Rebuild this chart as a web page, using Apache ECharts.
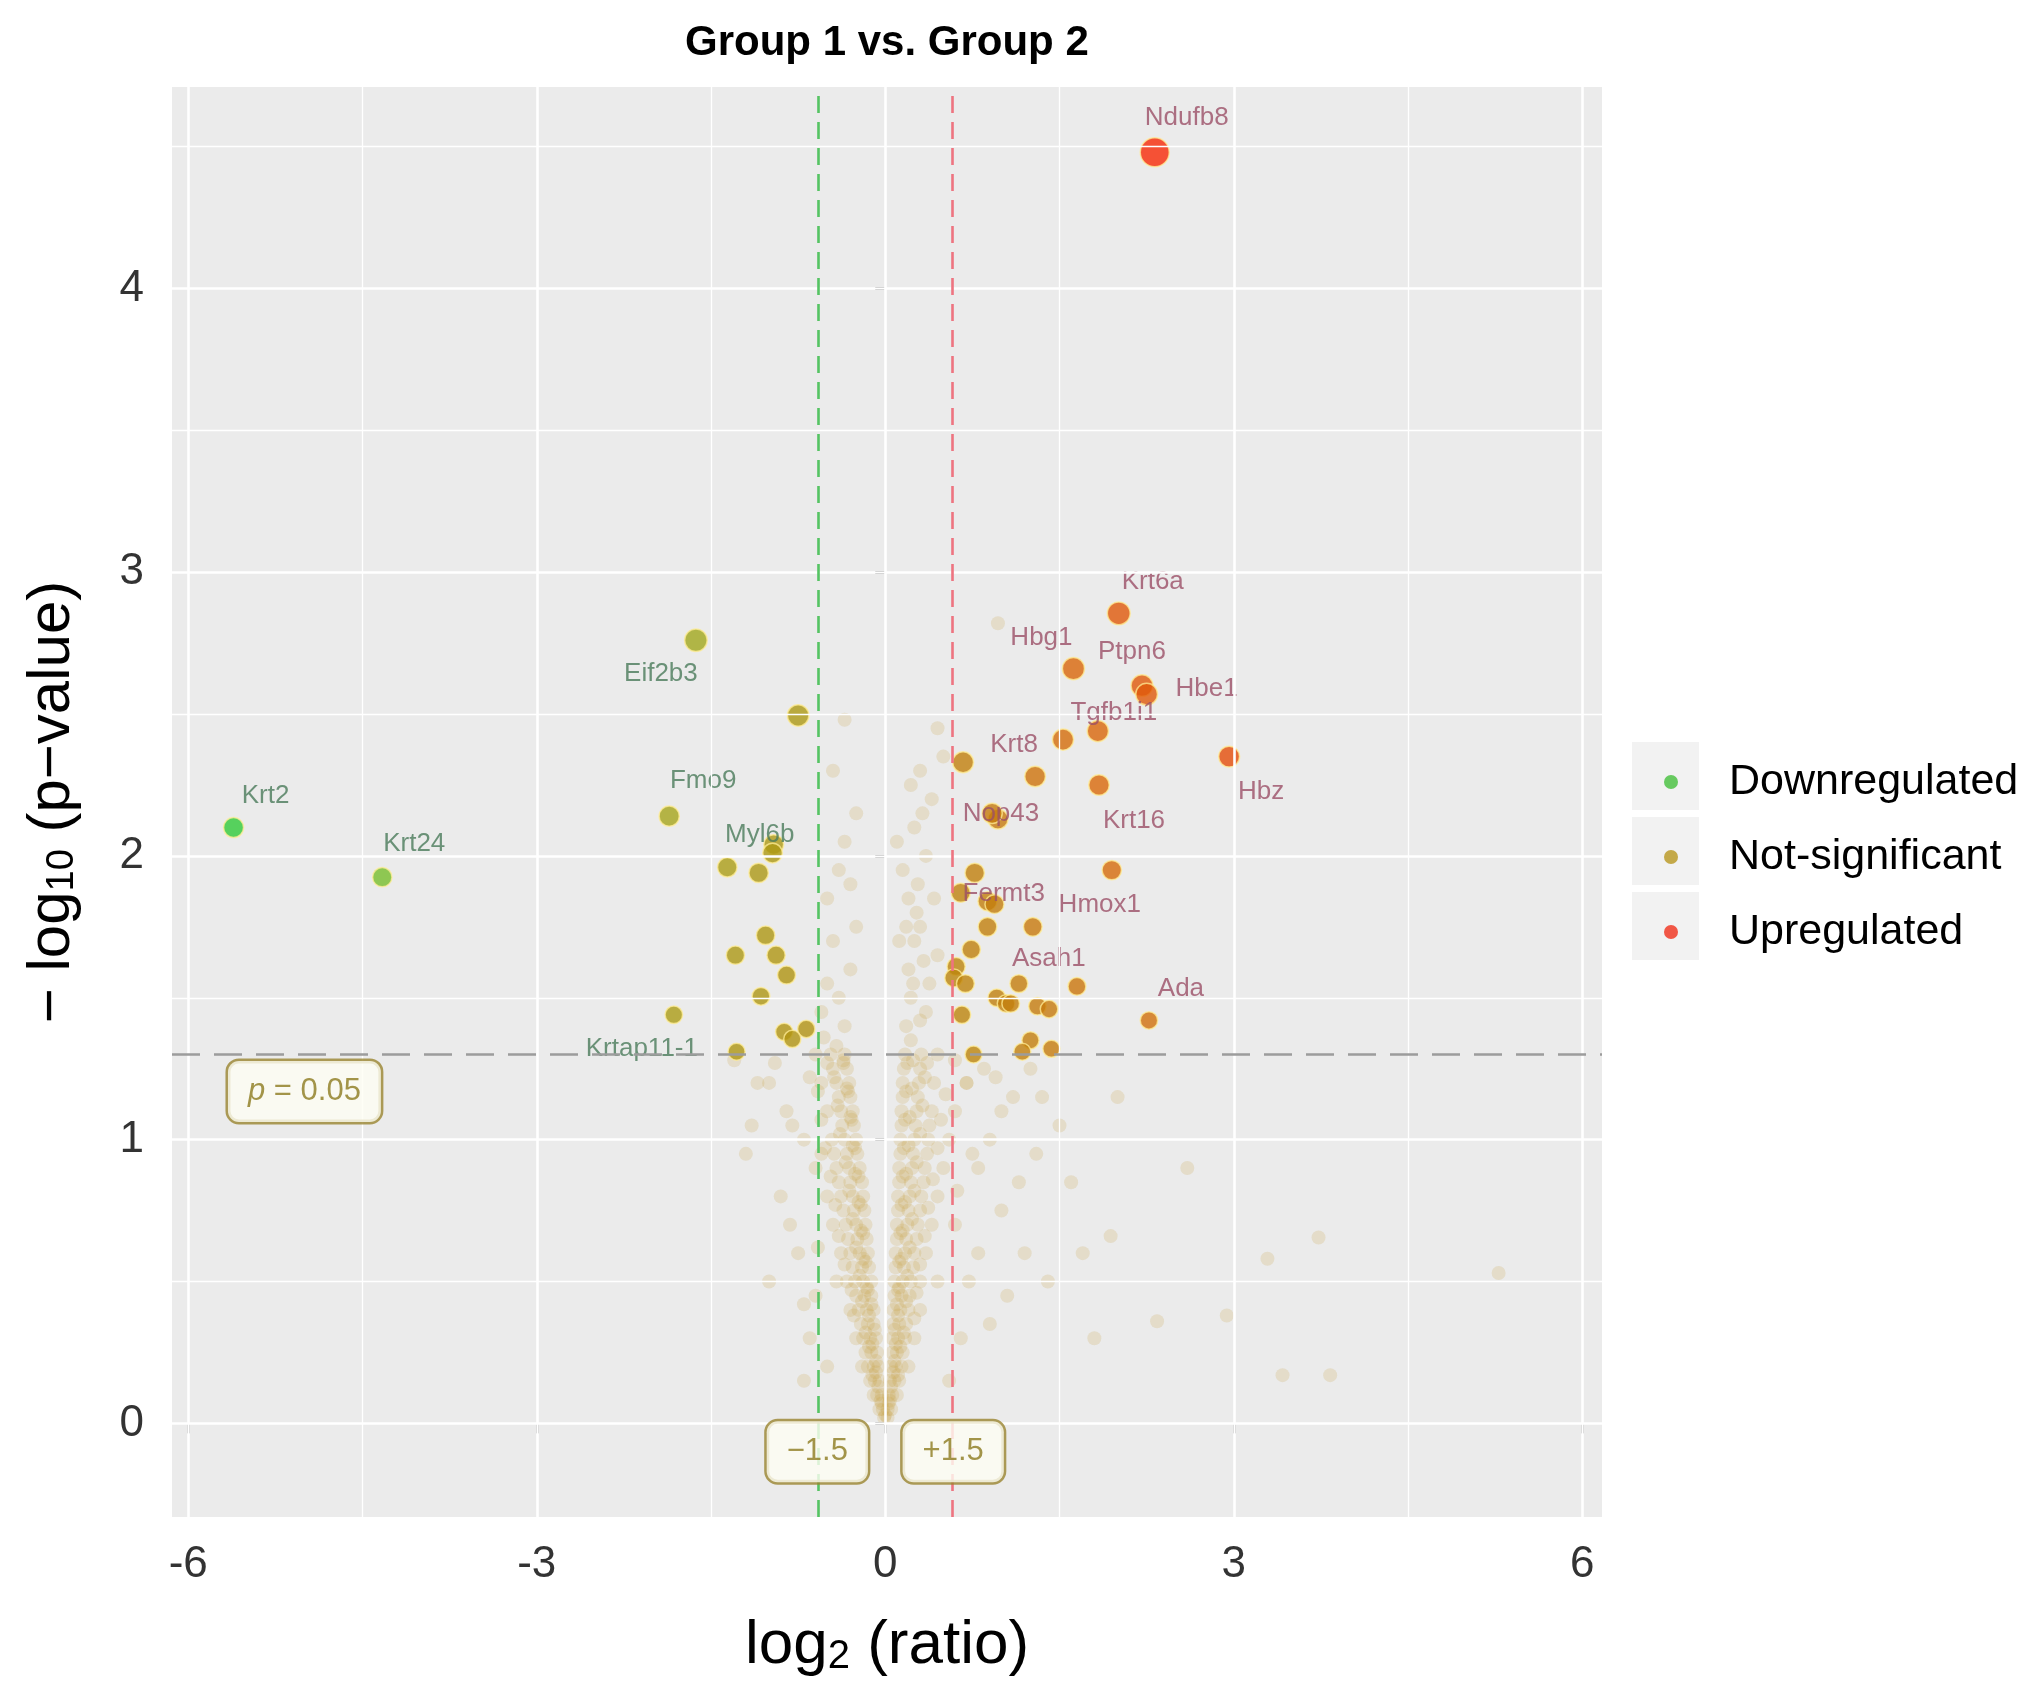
<!DOCTYPE html>
<html>
<head>
<meta charset="utf-8">
<script src="https://cdn.jsdelivr.net/npm/echarts@6/dist/echarts.min.js"></script>
<style>html,body{margin:0;padding:0;background:#fff}#c{width:2031px;height:1690px}</style>
</head>
<body>
<div id="c"></div>
<script>
const chartTitle = 'Group 1 vs. Group 2';
const xTicks = [-6, -3, 0, 3, 6];
const yTicks = [0, 1, 2, 3, 4];
const xMinor = [-4.5, -1.5, 1.5, 4.5];
const yMinor = [0.5, 1.5, 2.5, 3.5, 4.5];
const fcCut = 0.585;
const pCut = 1.301;
const legendNames = ['Downregulated', 'Not-significant', 'Upregulated'];
const legendColors = ['#43BF3B', '#B8961E', '#F0301A'];

// significant / coloured points
const sigNames = ['Ndufb8','Krt6a','Hbg1','Ptpn6','Hbe1','Tgfb1i1','Hbz','Krt8','Krt16','Nop43','Hmox1','Fermt3','Asah1','Ada',
  'Krt2','Krt24','Eif2b3','Fmo9','Myl6b','Krtap11-1',
  '','','','','','','','','','','','','','','','','','','','','','','',
  '','','','','','','','','','','','',''];
const sigX = [2.32,2.01,1.62,2.21,2.25,1.83,2.96,1.29,1.84,0.97,1.95,0.65,1.27,2.27,
  -5.61,-4.33,-1.63,-1.86,-0.96,-1.82,
  1.53,0.67,0.92,0.77,0.88,0.94,0.88,0.74,0.61,0.59,0.69,1.15,1.65,0.96,1.04,1.08,1.31,1.41,0.66,1.25,1.18,1.43,0.76,
  -0.75,-0.97,-1.36,-1.09,-1.03,-1.29,-0.94,-0.85,-1.07,-0.68,-0.87,-0.80,-1.28];
const sigY = [4.48,2.855,2.66,2.60,2.57,2.44,2.35,2.28,2.25,2.13,1.95,1.87,1.75,1.42,
  2.10,1.925,2.76,2.14,2.04,1.44,
  2.41,2.33,2.15,1.94,1.84,1.83,1.75,1.67,1.61,1.57,1.55,1.55,1.54,1.50,1.48,1.48,1.47,1.46,1.44,1.35,1.31,1.32,1.30,
  2.495,2.01,1.96,1.94,1.72,1.65,1.65,1.58,1.505,1.39,1.38,1.355,1.31];

// faint background points (not significant)
const cloudLeft = [[-0.02,0.05],[-0.05,0.05],[-0.03,0.1],[-0.07,0.1],[-0.1,0.1],[-0.05,0.15],[-0.09,0.15],[-0.13,0.15],
  [-0.06,0.2],[-0.1,0.2],[-0.15,0.2],[-0.2,0.2],[-0.07,0.25],[-0.12,0.25],[-0.17,0.25],[-0.08,0.3],[-0.13,0.3],[-0.19,0.3],[-0.25,0.3],
  [-0.1,0.35],[-0.15,0.35],[-0.21,0.35],[-0.1,0.4],[-0.16,0.4],[-0.23,0.4],[-0.3,0.4],[-0.12,0.45],[-0.18,0.45],[-0.25,0.45],
  [-0.12,0.5],[-0.19,0.5],[-0.26,0.5],[-0.33,0.5],[-0.42,0.5],[-0.14,0.55],[-0.2,0.55],[-0.28,0.55],[-0.15,0.6],[-0.22,0.6],[-0.3,0.6],[-0.38,0.6],
  [-0.16,0.65],[-0.24,0.65],[-0.32,0.65],[-0.17,0.7],[-0.25,0.7],[-0.34,0.7],[-0.45,0.7],[-0.18,0.75],[-0.27,0.75],[-0.36,0.75],
  [-0.19,0.8],[-0.28,0.8],[-0.38,0.8],[-0.5,0.8],[-0.2,0.85],[-0.3,0.85],[-0.4,0.85],[-0.22,0.9],[-0.31,0.9],[-0.42,0.9],[-0.6,0.9],
  [-0.24,0.95],[-0.33,0.95],[-0.44,0.95],[-0.25,1.0],[-0.35,1.0],[-0.46,1.0],[-0.7,1.0],[-0.27,1.05],[-0.37,1.05],
  [-0.28,1.1],[-0.38,1.1],[-0.5,1.1],[-0.85,1.1],[-0.3,1.15],[-0.4,1.15],[-0.31,1.2],[-0.42,1.2],[-0.55,1.2],[-1.0,1.2],
  [-0.33,1.25],[-0.45,1.25],[-0.35,1.3],[-0.47,1.3],[-0.6,1.3]];
const cloudRight = [[0.02,0.05],[0.05,0.05],[0.03,0.1],[0.06,0.1],[0.1,0.1],[0.04,0.15],[0.08,0.15],[0.12,0.15],
  [0.05,0.2],[0.09,0.2],[0.14,0.2],[0.2,0.2],[0.06,0.25],[0.1,0.25],[0.15,0.25],[0.06,0.3],[0.11,0.3],[0.17,0.3],[0.25,0.3],
  [0.07,0.35],[0.12,0.35],[0.18,0.35],[0.07,0.4],[0.13,0.4],[0.2,0.4],[0.3,0.4],[0.08,0.45],[0.14,0.45],[0.21,0.45],
  [0.08,0.5],[0.15,0.5],[0.22,0.5],[0.3,0.5],[0.45,0.5],[0.09,0.55],[0.16,0.55],[0.24,0.55],[0.09,0.6],[0.17,0.6],[0.25,0.6],[0.35,0.6],
  [0.1,0.65],[0.18,0.65],[0.27,0.65],[0.1,0.7],[0.19,0.7],[0.28,0.7],[0.4,0.7],[0.6,0.7],[0.11,0.75],[0.2,0.75],[0.3,0.75],
  [0.11,0.8],[0.21,0.8],[0.31,0.8],[0.45,0.8],[0.12,0.85],[0.22,0.85],[0.33,0.85],[0.12,0.9],[0.23,0.9],[0.34,0.9],[0.5,0.9],[0.8,0.9],
  [0.13,0.95],[0.24,0.95],[0.36,0.95],[0.13,1.0],[0.25,1.0],[0.37,1.0],[0.55,1.0],[0.14,1.05],[0.26,1.05],[0.38,1.05],
  [0.14,1.1],[0.27,1.1],[0.4,1.1],[0.6,1.1],[1.0,1.1],[0.15,1.15],[0.28,1.15],[0.15,1.2],[0.29,1.2],[0.42,1.2],[0.7,1.2],
  [0.16,1.25],[0.3,1.25],[0.17,1.3],[0.31,1.3],[0.45,1.3]];
const cloudCore = [[0.02,0.02],[-0.01,0.02],[0,0.03],[-0.04,0.08],[0.04,0.08],[-0.08,0.18],[0.07,0.18],[-0.11,0.28],[0.09,0.28],
  [-0.14,0.38],[0.11,0.38],[-0.16,0.48],[0.12,0.48],[-0.19,0.58],[0.14,0.58],[-0.21,0.68],[0.15,0.68],[-0.23,0.78],[0.17,0.78],
  [-0.26,0.88],[0.18,0.88],[-0.28,0.98],[0.2,0.98],[-0.3,1.08],[0.21,1.08],[-0.33,1.18],[0.23,1.18],[-0.36,1.28],[0.24,1.28]];
const cloudFillLeft = [[-0.03,0.07],[-0.06,0.13],[-0.08,0.22],[-0.11,0.17],[-0.14,0.27],[-0.09,0.33],[-0.17,0.32],[-0.12,0.42],
  [-0.2,0.43],[-0.27,0.38],[-0.15,0.47],[-0.22,0.52],[-0.29,0.47],[-0.17,0.57],[-0.25,0.62],[-0.35,0.56],[-0.19,0.67],[-0.28,0.72],
  [-0.4,0.66],[-0.21,0.77],[-0.31,0.82],[-0.43,0.77],[-0.23,0.87],[-0.34,0.92],[-0.47,0.87],[-0.26,0.97],[-0.39,1.02],[-0.52,0.97],
  [-0.29,1.07],[-0.41,1.12],[-0.55,1.07],[-0.32,1.17],[-0.44,1.22],[-0.58,1.17],[-0.36,1.27],[-0.5,1.27],[-0.65,1.22],[-0.42,1.33],[-0.53,1.36]];
const cloudFillRight = [[0.03,0.07],[0.05,0.13],[0.08,0.22],[0.11,0.17],[0.13,0.27],[0.08,0.33],[0.16,0.32],[0.1,0.42],[0.18,0.43],
  [0.25,0.37],[0.11,0.47],[0.19,0.52],[0.27,0.46],[0.12,0.57],[0.21,0.62],[0.3,0.56],[0.13,0.67],[0.23,0.72],[0.34,0.66],[0.14,0.77],
  [0.25,0.82],[0.37,0.76],[0.15,0.87],[0.27,0.92],[0.41,0.86],[0.16,0.97],[0.3,1.02],[0.45,0.97],[0.17,1.07],[0.32,1.12],
  [0.48,1.07],[0.18,1.17],[0.34,1.22],[0.52,1.16],[0.19,1.27],[0.36,1.27],[0.22,1.35],[0.3,1.42],[0.24,1.55],[0.33,1.63],
  [0.27,1.8],[0.18,1.75],[0.32,2.15],[0.22,2.25],[0.42,1.85]];
const cloudUpper = [[-0.35,1.4],[-0.4,1.5],[-0.3,1.6],[-0.45,1.7],[-0.5,1.85],[-0.3,1.9],[-0.35,2.05],[-0.25,2.15],[-0.45,2.3],
  [-0.35,2.48],[-0.55,1.45],[-0.5,1.55],[-0.25,1.75],[-0.4,1.95],
  [0.18,1.4],[0.22,1.5],[0.2,1.6],[0.25,1.7],[0.3,1.75],[0.2,1.85],[0.28,1.9],[0.15,1.95],[0.35,2.0],[0.25,2.1],[0.4,2.2],
  [0.3,2.3],[0.45,2.45],[0.1,2.05],[0.38,1.55],[0.45,1.65],[0.97,2.82],[0.5,2.35],[0.35,1.45],[0.12,1.7]];
const cloudSparse = [[-0.8,1.05],[-1.1,1.2],[-1.3,1.28],[-0.9,0.8],[-0.75,0.6],[-0.6,0.45],[-1.2,0.95],[-0.65,0.3],[-0.5,0.2],
  [-1.0,0.5],[-0.7,0.15],[0.7,1.2],[0.9,1.0],[1.1,1.15],[1.3,0.95],[1.5,1.05],[0.8,0.6],[1.0,0.75],[1.2,0.6],[1.6,0.85],
  [0.65,0.3],[0.9,0.35],[1.4,0.5],[1.94,0.66],[2.34,0.36],[2.94,0.38],[3.29,0.58],[3.73,0.655],[5.28,0.53],[3.42,0.17],
  [3.83,0.17],[2.6,0.9],[2.0,1.15],[0.75,0.95],[1.25,1.25],[0.55,0.15],[1.8,0.3],
  [-0.95,1.27],[-1.15,1.05],[-0.82,0.7],[-0.58,0.62],[-0.7,0.42],[-0.55,0.95],[0.62,0.82],[0.85,1.25],[1.15,0.85],
  [0.72,0.5],[1.05,0.45],[1.35,1.15],[1.7,0.6],[0.6,1.28],[0.95,1.22]];

const boxLabels = [[-fcCut, -0.10, '−1.5'], [fcCut, -0.10, '+1.5'], [-5.0, 1.17, 'p = 0.05']];

const labelOffset = {
  Ndufb8:[32,-34], Krt6a:[34,-31], Hbg1:[-32,-31], Ptpn6:[-10,-34], Hbe1:[60,-5], Tgfb1i1:[16,-18],
  Hbz:[32,35], Krt8:[-21,-32], Krt16:[35,36], Nop43:[3,-5], Hmox1:[-12,35], Fermt3:[43,1], Asah1:[16,32],
  Ada:[32,-32], Krt2:[32,-32], Krt24:[32,-33], Eif2b3:[-35,34], Fmo9:[34,-35], Myl6b:[-14,-10], 'Krtap11-1':[-32,34]
};

const sigData = sigNames.map((n, i) => ({
  name: n,
  value: [sigX[i], sigY[i], sigX[i] * sigY[i]],
  label: n ? { show: true, color: sigX[i] < 0 ? '#4A7A5A' : '#9B4F66' } : { show: false }
}));
const cloudData = [].concat(cloudLeft, cloudRight, cloudCore, cloudFillLeft, cloudFillRight, cloudUpper, cloudSparse);

const XMIN = -6.14, XMAX = 6.17, YMIN = -0.33, YMAX = 4.71;
const font = 'Liberation Sans, Arial, Helvetica, sans-serif';

const gridLines = [];
xTicks.forEach(v => gridLines.push({ xAxis: v, lineStyle: { width: 2.6 } }));
xMinor.forEach(v => gridLines.push({ xAxis: v, lineStyle: { width: 1.3 } }));
yTicks.forEach(v => gridLines.push({ yAxis: v, lineStyle: { width: 2.6 } }));
yMinor.forEach(v => gridLines.push({ yAxis: v, lineStyle: { width: 1.3 } }));

const chart = echarts.init(document.getElementById('c'), null, { renderer: 'canvas' });
chart.setOption({
  animation: false,
  textStyle: { fontFamily: font },
  title: {
    text: chartTitle, left: 680, top: 17,
    textStyle: { fontSize: 42, fontWeight: 'bold', color: '#000', fontFamily: font }
  },
  legend: {
    data: legendNames, orient: 'vertical', left: 1659, top: 752,
    itemWidth: 14, itemHeight: 14, itemGap: 25, icon: 'circle',
    textStyle: { fontSize: 43, color: '#000', padding: [0, 0, 0, 46], lineHeight: 50 }
  },
  graphic: [
    { type: 'rect', shape: { x: 1632, y: 742, width: 67, height: 68 }, style: { fill: '#F2F2F2' }, z: 0 },
    { type: 'rect', shape: { x: 1632, y: 817, width: 67, height: 68 }, style: { fill: '#F2F2F2' }, z: 0 },
    { type: 'rect', shape: { x: 1632, y: 892, width: 67, height: 68 }, style: { fill: '#F2F2F2' }, z: 0 }
  ],
  grid: { left: 172, right: 429, top: 87, bottom: 173, show: true, backgroundColor: '#EBEBEB', borderWidth: 0 },
  xAxis: {
    type: 'value', min: XMIN, max: XMAX,
    axisLine: { show: false }, splitLine: { show: false },
    axisTick: { show: true, customValues: xTicks, length: 10, lineStyle: { color: '#333', width: 2.6 } },
    axisLabel: { customValues: xTicks, fontSize: 44, color: '#333', margin: 26 },
    name: '{a|log}{s|2}{a| (ratio)}', nameLocation: 'middle', nameGap: 86,
    nameTextStyle: { rich: {
      a: { fontSize: 62, color: '#000', lineHeight: 74, verticalAlign: 'bottom' },
      s: { fontSize: 40, color: '#000', lineHeight: 34, verticalAlign: 'bottom' } } }
  },
  yAxis: {
    type: 'value', min: YMIN, max: YMAX,
    axisLine: { show: false }, splitLine: { show: false },
    axisTick: { show: true, customValues: yTicks, length: 10, lineStyle: { color: '#333', width: 2.6 } },
    axisLabel: { customValues: yTicks, fontSize: 44, color: '#333', margin: 28 },
    name: '{a|− log}{s|10}{a| (p−value)}', nameLocation: 'middle', nameGap: 90, nameRotate: 90,
    nameTextStyle: { rich: {
      a: { fontSize: 60, color: '#000', lineHeight: 72, verticalAlign: 'bottom' },
      s: { fontSize: 38, color: '#000', lineHeight: 32, verticalAlign: 'bottom' } } }
  },
  visualMap: {
    type: 'continuous', show: false, dimension: 2, seriesIndex: 3, min: -12, max: 12,
    inRange: { color: ['#2DCB3A', '#7EBD2B', '#A6A51B', '#B48C0E', '#D86A0A', '#EA440A', '#FF1A05'] }
  },
  series: [
    { type: 'scatter', name: 'gridlines', data: [], z: 1, silent: true,
      markLine: { silent: true, symbol: ['none', 'none'], label: { show: false },
        lineStyle: { color: '#FFFFFF', type: 'solid' }, data: gridLines, animation: false } },
    { type: 'scatter', name: 'background', data: cloudData, z: 2, silent: true, symbolSize: 14,
      itemStyle: { color: 'rgba(200,162,64,0.25)' } },
    { type: 'scatter', name: 'thresholds', data: [], z: 3, silent: true,
      markLine: { silent: true, symbol: ['none', 'none'], label: { show: false }, animation: false,
        data: [
          { xAxis: -fcCut, lineStyle: { color: '#55C463', width: 2.6, type: [17, 9] } },
          { xAxis: fcCut, lineStyle: { color: '#EE7480', width: 2.6, type: [17, 9] } },
          { yAxis: pCut, lineStyle: { color: '#9C9C9C', width: 2.6, type: [28, 14] } }
        ] } },
    { type: 'scatter', name: 'significant', data: sigData, z: 4,
      symbolSize: v => 12 + 3.8 * v[1],
      itemStyle: { borderColor: 'rgba(255,236,150,0.95)', borderWidth: 1.5 },
      label: { show: true, position: 'inside', formatter: '{b}', fontSize: 26, align: 'center', verticalAlign: 'middle' },
      labelLayout: p => {
        const o = labelOffset[sigNames[p.dataIndex]];
        return o ? { dx: o[0], dy: o[1], hideOverlap: false } : {};
      } },
    { type: 'scatter', name: 'annotations', z: 5, silent: true, symbolSize: 1,
      itemStyle: { color: 'rgba(0,0,0,0)' },
      data: boxLabels.map(b => ({ value: [b[0], b[1]], name: b[2] })),
      label: { show: true, position: 'inside',
        formatter: p => p.name.startsWith('p') ? '{i|p}{n| = 0.05}' : '{b|' + p.name + '}',
        backgroundColor: '#FEFEF4', borderColor: '#9A8530', borderWidth: 2.5, borderRadius: 11,
        padding: [15, 20, 15, 20],
        rich: {
          i: { fontSize: 31, fontStyle: 'italic', color: '#8C7A1E', fontFamily: font },
          n: { fontSize: 31, color: '#8C7A1E', fontFamily: font },
          b: { fontSize: 31, color: '#8C7A1E', fontFamily: font }
        } } },
    { type: 'scatter', name: legendNames[0], data: [], itemStyle: { color: legendColors[0] } },
    { type: 'scatter', name: legendNames[1], data: [], itemStyle: { color: legendColors[1] } },
    { type: 'scatter', name: legendNames[2], data: [], itemStyle: { color: legendColors[2] } }
  ]
});
</script>
</body>
</html>
